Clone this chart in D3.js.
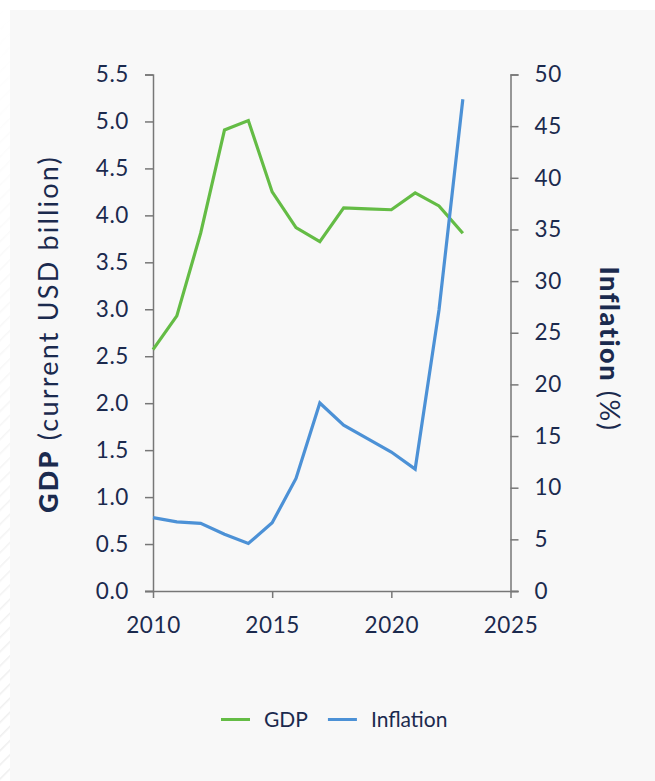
<!DOCTYPE html>
<html>
<head>
<meta charset="utf-8">
<script src="https://cdn.jsdelivr.net/npm/d3@7/dist/d3.min.js"></script>
<style>
  html, body { margin: 0; padding: 0; background: #ffffff; }
  svg { display: block; }
  text { font-family: Lato, "Open Sans", sans-serif; fill: #1b2a4e; }
</style>
</head>
<body>
<div id="chart"></div>
<script>
// Annual GDP (current USD billion) and inflation (%)
const years = [2010, 2011, 2012, 2013, 2014, 2015, 2016, 2017, 2018, 2019, 2020, 2021, 2022, 2023];
const gdp = [2.57, 2.93, 3.81, 4.91, 5.01, 4.25, 3.87, 3.72, 4.08, 4.07, 4.06, 4.24, 4.10, 3.81];
const inflation = [7.1, 6.7, 6.55, 5.5, 4.6, 6.6, 10.9, 18.2, 16.05, 14.75, 13.45, 11.8, 27.2, 47.6];

const gdpTicks = [0, 0.5, 1, 1.5, 2, 2.5, 3, 3.5, 4, 4.5, 5, 5.5];
const inflationTicks = [0, 5, 10, 15, 20, 25, 30, 35, 40, 45, 50];
const yearTicks = [2010, 2015, 2020, 2025];

const series = [
  { name: "GDP", values: gdp, color: "#64bc45", axis: "left" },
  { name: "Inflation", values: inflation, color: "#4c91d6", axis: "right" }
];

const W = 655, H = 781;
const plot = { left: 153, right: 510.5, top: 74.5, bottom: 591 };

const svg = d3.select("#chart").append("svg")
  .attr("width", W).attr("height", H);

// Panel background with a faint hatched strip on the left margin
const defs = svg.append("defs");
const pat = defs.append("pattern")
  .attr("id", "hatch").attr("patternUnits", "userSpaceOnUse")
  .attr("width", 10).attr("height", 10)
  .attr("patternTransform", "rotate(45)");
pat.append("line").attr("x1", 0).attr("y1", 0).attr("x2", 0).attr("y2", 10)
  .attr("stroke", "#eeeeee").attr("stroke-width", 3);
const fade = defs.append("linearGradient").attr("id", "fade")
  .attr("x1", 0).attr("y1", 0).attr("x2", 0).attr("y2", 1);
fade.append("stop").attr("offset", "0%").attr("stop-color", "#fff").attr("stop-opacity", 0);
fade.append("stop").attr("offset", "100%").attr("stop-color", "#fff").attr("stop-opacity", 1);
const mask = defs.append("mask").attr("id", "fadeMask");
mask.append("rect").attr("x", 0).attr("y", 0).attr("width", 10).attr("height", H).attr("fill", "url(#fade)");
svg.append("rect").attr("x", 0).attr("y", 0).attr("width", 10).attr("height", H)
  .attr("fill", "url(#hatch)").attr("mask", "url(#fadeMask)");

svg.append("rect").attr("x", 10).attr("y", 10).attr("width", W - 10).attr("height", H - 10)
  .attr("fill", "#f8f8f8");

const x = d3.scaleLinear().domain([2010, 2025]).range([plot.left, plot.right]);
const yL = d3.scaleLinear().domain([0, 5.5]).range([plot.bottom, plot.top]);
const yR = d3.scaleLinear().domain([0, 50]).range([plot.bottom, plot.top]);

const axisColor = "#777777";
function styleAxis(g) {
  g.selectAll(".domain").attr("stroke", axisColor).attr("stroke-width", 1.5);
  g.selectAll(".tick line").attr("stroke", axisColor).attr("stroke-width", 1.5);
  g.selectAll(".tick text").attr("fill", "#1b2a4e")
    .style("font-family", "Lato, 'Open Sans', sans-serif").style("font-size", "22.5px")
    .style("letter-spacing", "0.6px");
}

// Left axis
svg.append("g").attr("transform", `translate(${plot.left},0)`)
  .call(d3.axisLeft(yL).tickValues(gdpTicks).tickFormat(d3.format(".1f"))
    .tickSize(8).tickSizeOuter(8).tickPadding(16))
  .call(styleAxis);

// Right axis
svg.append("g").attr("transform", `translate(${plot.right},0)`)
  .call(d3.axisRight(yR).tickValues(inflationTicks).tickFormat(d3.format("d"))
    .tickSize(8).tickSizeOuter(8).tickPadding(16))
  .call(styleAxis);

// Bottom axis
const xg = svg.append("g").attr("transform", `translate(0,${plot.bottom})`)
  .call(d3.axisBottom(x).tickValues(yearTicks).tickFormat(d3.format("d"))
    .tickSize(7).tickSizeOuter(0).tickPadding(19))
  .call(styleAxis);
xg.select(".domain").attr("d", `M${plot.left - 8},0.5H${plot.right + 8}`);

// Lines
series.forEach(s => {
  const yScale = s.axis === "left" ? yL : yR;
  const line = d3.line().x((d, i) => x(years[i])).y(d => yScale(d));
  svg.append("path").datum(s.values)
    .attr("fill", "none").attr("stroke", s.color).attr("stroke-width", 3.2)
    .attr("stroke-linejoin", "miter").attr("d", line);
});

// Axis titles
const tl = svg.append("text")
  .attr("transform", `translate(58,${334}) rotate(-90)`)
  .attr("text-anchor", "middle").style("font-size", "27px")
  .style("letter-spacing", "2.2px");
tl.append("tspan").attr("font-weight", 900).text("GDP");
tl.append("tspan").text(" (current USD billion)");

const tr = svg.append("text")
  .attr("transform", `translate(600,${349}) rotate(90)`)
  .attr("text-anchor", "middle").style("font-size", "27px")
  .style("letter-spacing", "1.6px");
tr.append("tspan").attr("font-weight", 900).text("Inflation");
tr.append("tspan").text(" (%)");

// Legend
const legend = svg.append("g").attr("transform", "translate(221,719.5)");
let lx = 0;
series.forEach(s => {
  const g = legend.append("g").attr("transform", `translate(${lx},0)`);
  g.append("line").attr("x1", 0).attr("x2", 29).attr("y1", 0).attr("y2", 0)
    .attr("stroke", s.color).attr("stroke-width", 3);
  const t = g.append("text").attr("x", 43).attr("y", 7.5)
    .style("font-size", "21px").text(s.name);
  lx += 43 + t.node().getComputedTextLength() + 20;
});
</script>
</body>
</html>
